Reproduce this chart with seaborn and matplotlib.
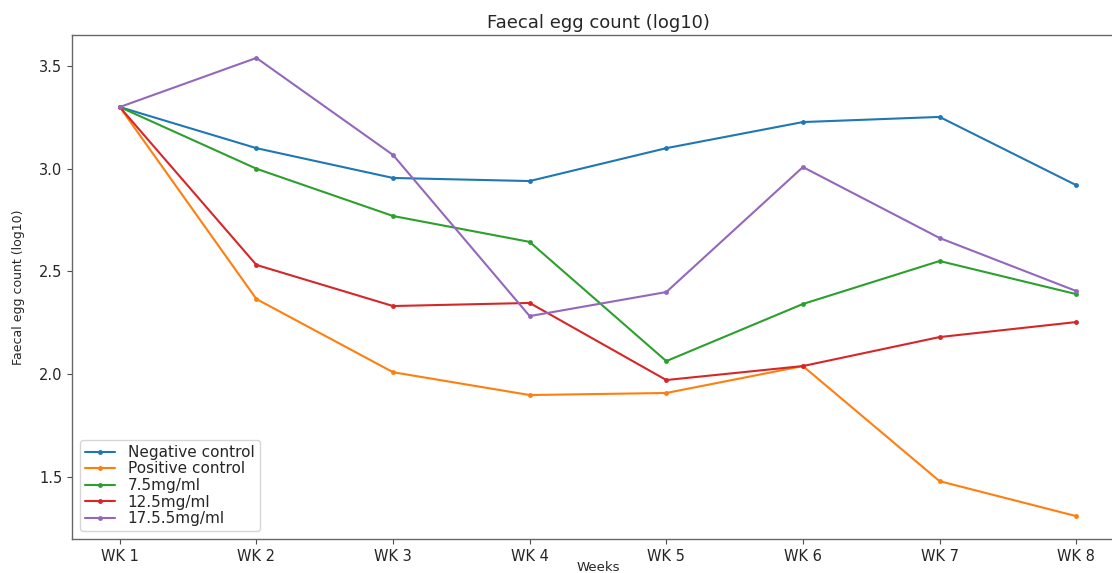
import pandas as pd
import numpy as np
import seaborn as sns
import matplotlib.pyplot as plt

# ==========================================
# data
# ==========================================
weeks = ['WK 1', 'WK 2', 'WK 3', 'WK 4', 'WK 5', 'WK 6', 'WK 7', 'WK 8']
groups = ['Negative control', 'Positive control', '7.5mg/ml', '12.5mg/ml', '17.5.5mg/ml']

negative_control = [3.30, 3.10, 2.955, 2.94, 3.10, 3.227, 3.252, 2.92]
positive_control = [3.30, 2.366, 2.01, 1.899, 1.909, 2.04, 1.48, 1.31]
dose_7_5 = [3.30, 3.00, 2.77, 2.644, 2.064, 2.342, 2.551, 2.39]
dose_12_5 = [3.30, 2.532, 2.332, 2.347, 1.972, 2.04, 2.181, 2.254]
dose_17_5 = [3.30, 3.539, 3.067, 2.283, 2.40, 3.008, 2.663, 2.405]

series = [negative_control, positive_control, dose_7_5, dose_12_5, dose_17_5]

# long format for seaborn
rows = []
for g, vals in zip(groups, series):
    for w, v in zip(weeks, vals):
        rows.append({'Weeks': w, 'count': v, 'group': g})
df = pd.DataFrame(rows)

# ==========================================
# plot
# ==========================================
sns.set_style('ticks')
plt.rcParams['font.family'] = ['DejaVu Sans']

fig = plt.figure(figsize=(11.12, 5.73), dpi=100)
# right edge runs past the figure, like the cropped reference
ax = fig.add_axes([0.0647, 0.0593, 1.0108 - 0.0647, 0.9389 - 0.0593])

sns.lineplot(data=df, x='Weeks', y='count', hue='group', hue_order=groups,
             palette='tab10', marker='.', markersize=7, markeredgewidth=0,
             linewidth=1.5, sort=False, ax=ax)

ax.set_title('Faecal egg count (log10)', fontsize=13, pad=5)
ax.set_xlabel('Weeks', fontsize=9.5, labelpad=-2)
ax.set_ylabel('Faecal egg count (log10)', fontsize=9, labelpad=10)
ax.set_yticks([1.5, 2.0, 2.5, 3.0, 3.5])
ax.tick_params(labelsize=10.5, length=3.5, color='0.3')
for s in ax.spines.values():
    s.set_color('0.4')
    s.set_linewidth(1.0)

handles, labels = ax.get_legend_handles_labels()
ax.legend(handles, labels, loc='lower left', fontsize=11, frameon=True,
          labelspacing=0.1, borderpad=0.35)

fig.savefig('out.png', dpi=100)
